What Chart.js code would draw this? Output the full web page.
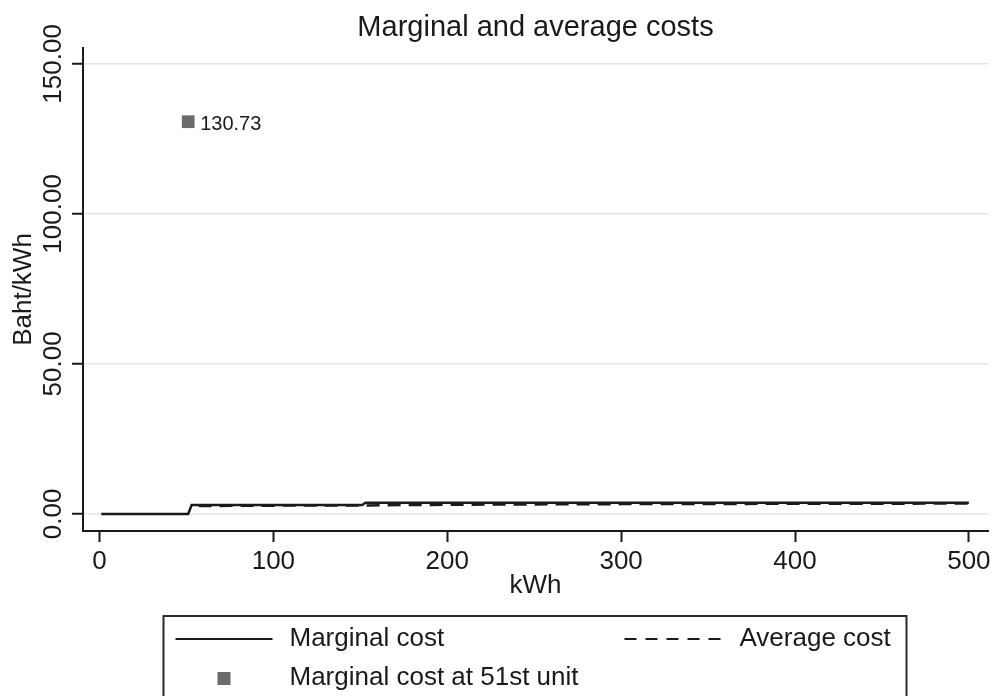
<!DOCTYPE html>
<html>
<head>
<meta charset="utf-8">
<script src="https://cdn.jsdelivr.net/npm/chart.js@4.4.1/dist/chart.umd.min.js"></script>
<style>
  body { margin: 0; background: #fff; }
  #wrap { width: 997px; height: 696px; }
</style>
</head>
<body>
<div id="wrap"><canvas id="cost-chart" width="997" height="696"></canvas></div>
<script>
// Marginal cost (step line)
const marginalKwh = [1, 51, 53, 151, 153, 500];
const marginalCost = [0, 0, 2.95, 2.95, 3.7, 3.7];

// Average cost (dashed line)
const averageKwh = [57, 75, 100, 125, 150, 175, 200, 250, 300, 350, 400, 450, 500];
const averageCost = [2.61, 2.69, 2.75, 2.79, 2.82, 2.95, 3.04, 3.17, 3.26, 3.32, 3.37, 3.41, 3.44];

// Highlighted point
const unitKwh = [51];
const unitCost = [130.73];

const xTicks = [0, 100, 200, 300, 400, 500];
const yTicks = [0, 50, 100, 150];

const chartTitle = 'Marginal and average costs';

const FONT = '"Liberation Sans", Arial, Helvetica, sans-serif';
const INK = '#1a1a1a';

function toPoints(xs, ys) {
    return xs.map((x, i) => ({ x: x, y: ys[i] }));
}

// title centred over the plot region (not the whole canvas)
const plotTitlePlugin = {
    id: 'plotTitle',
    afterDraw(chart) {
        const ctx = chart.ctx;
        const area = chart.chartArea;
        ctx.save();
        ctx.font = '29px ' + FONT;
        ctx.fillStyle = INK;
        ctx.textAlign = 'center';
        ctx.textBaseline = 'middle';
        ctx.fillText(chartTitle, (area.left + area.right) / 2, 28);
        ctx.restore();
    }
};

// y tick labels, rotated like the original
const yLabelPlugin = {
    id: 'yLabels',
    afterDraw(chart) {
        const ctx = chart.ctx;
        const y = chart.scales.y;
        ctx.save();
        ctx.font = '26px ' + FONT;
        ctx.fillStyle = INK;
        ctx.textAlign = 'center';
        ctx.textBaseline = 'middle';
        yTicks.forEach(v => {
            ctx.save();
            ctx.translate(54, y.getPixelForValue(v));
            ctx.rotate(-Math.PI / 2);
            ctx.fillText(v.toFixed(2), 0, 0);
            ctx.restore();
        });
        ctx.restore();
    }
};

// value label next to the square marker
const pointLabelPlugin = {
    id: 'pointLabel',
    afterDatasetsDraw(chart) {
        const meta = chart.getDatasetMeta(2);
        const ctx = chart.ctx;
        ctx.save();
        ctx.font = '20px ' + FONT;
        ctx.fillStyle = INK;
        ctx.textAlign = 'left';
        ctx.textBaseline = 'middle';
        meta.data.forEach((pt, i) => {
            ctx.fillText(unitCost[i].toFixed(2), pt.x + 12, pt.y + 3);
        });
        ctx.restore();
    }
};

// boxed legend under the plot
const boxLegendPlugin = {
    id: 'boxLegend',
    afterDraw(chart) {
        const ctx = chart.ctx;
        const area = chart.chartArea;
        const cx = (area.left + area.right) / 2;
        const top = 616;
        const row1 = 639;
        const row2 = 678;
        const ds = chart.data.datasets;

        ctx.save();
        ctx.strokeStyle = '#2a2a2a';
        ctx.lineWidth = 2;
        ctx.strokeRect(cx - 372, top, 743, 120);

        // solid line sample
        ctx.strokeStyle = INK;
        ctx.beginPath();
        ctx.moveTo(cx - 360, row1);
        ctx.lineTo(cx - 263, row1);
        ctx.stroke();

        // dashed sample
        ctx.setLineDash([12, 9]);
        ctx.beginPath();
        ctx.moveTo(cx + 89, row1);
        ctx.lineTo(cx + 187, row1);
        ctx.stroke();
        ctx.setLineDash([]);

        // square sample
        ctx.fillStyle = '#6b6b6b';
        ctx.fillRect(cx - 318, row2 - 6, 13, 13);

        ctx.font = '26px ' + FONT;
        ctx.fillStyle = INK;
        ctx.textAlign = 'left';
        ctx.textBaseline = 'middle';
        ctx.fillText(ds[0].label, cx - 246, row1);
        ctx.fillText(ds[1].label, cx + 204, row1);
        ctx.fillText(ds[2].label, cx - 246, row2);
        ctx.restore();
    }
};

const ctx = document.getElementById('cost-chart').getContext('2d');
const costChart = new Chart(ctx, {
    type: 'scatter',
    data: {
        datasets: [
            {
                label: 'Marginal cost',
                data: toPoints(marginalKwh, marginalCost),
                showLine: true,
                borderColor: INK,
                borderWidth: 2.5,
                pointRadius: 0,
                tension: 0
            },
            {
                label: 'Average cost',
                data: toPoints(averageKwh, averageCost),
                showLine: true,
                borderColor: INK,
                borderWidth: 2.5,
                borderDash: [13, 8],
                pointRadius: 0,
                tension: 0
            },
            {
                label: 'Marginal cost at 51st unit',
                data: toPoints(unitKwh, unitCost),
                pointStyle: 'rect',
                pointRadius: 9,
                pointHoverRadius: 9,
                backgroundColor: '#6b6b6b',
                borderColor: '#6b6b6b',
                borderWidth: 0
            }
        ]
    },
    options: {
        responsive: false,
        animation: false,
        layout: {
            padding: { left: 0, right: 8, top: 48, bottom: 95 }
        },
        plugins: {
            legend: { display: false },
            tooltip: { enabled: false },
            title: { display: false }
        },
        scales: {
            x: {
                type: 'linear',
                min: -9.5,
                max: 511,
                afterBuildTicks: scale => {
                    scale.ticks = xTicks.map(v => ({ value: v }));
                },
                afterFit: scale => { scale.height = 70; },
                ticks: {
                    color: INK,
                    font: { family: FONT, size: 26 },
                    padding: 4,
                    callback: v => String(v)
                },
                grid: {
                    drawOnChartArea: false,
                    drawTicks: true,
                    tickLength: 11,
                    tickWidth: 2,
                    tickColor: INK
                },
                border: { display: true, color: INK, width: 2 },
                title: {
                    display: true,
                    text: 'kWh',
                    color: INK,
                    font: { family: FONT, size: 26 },
                    padding: { top: 0, bottom: 0 }
                }
            },
            y: {
                type: 'linear',
                min: -5.7,
                max: 155.3,
                afterBuildTicks: scale => {
                    scale.ticks = yTicks.map(v => ({ value: v }));
                },
                afterFit: scale => { scale.width = 83; },
                ticks: { display: false },
                grid: {
                    color: '#e6e6e6',
                    lineWidth: 1.5,
                    drawTicks: true,
                    tickLength: 11,
                    tickWidth: 2,
                    tickColor: INK
                },
                border: { display: true, color: INK, width: 2 },
                title: {
                    display: true,
                    text: 'Baht/kWh',
                    color: INK,
                    font: { family: FONT, size: 26 },
                    padding: { top: 8, bottom: 0 }
                }
            }
        }
    },
    plugins: [plotTitlePlugin, yLabelPlugin, pointLabelPlugin, boxLegendPlugin]
});
</script>
</body>
</html>
